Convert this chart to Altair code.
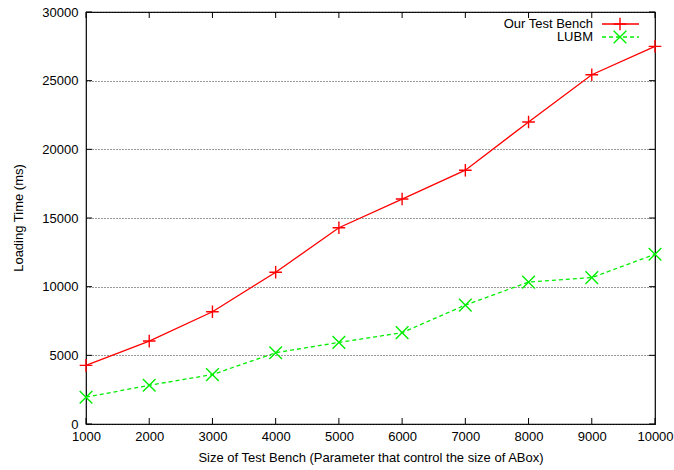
import altair as alt
import pandas as pd

# ---- data ----
sizes = [1000, 2000, 3000, 4000, 5000, 6000, 7000, 8000, 9000, 10000]
our_test_bench = [4270, 6040, 8170, 11050, 14290, 16380, 18480, 21990, 25430, 27500]
lubm = [1950, 2820, 3600, 5190, 5940, 6650, 8660, 10330, 10660, 12360]
series_names = ["Our Test Bench", "LUBM"]
x_ticks = [1000, 2000, 3000, 4000, 5000, 6000, 7000, 8000, 9000, 10000]
y_ticks = [0, 5000, 10000, 15000, 20000, 25000, 30000]

W, H = 569, 412
FONT = "Liberation Sans"
RED = "#ff0000"
GREEN = "#00ee00"
PLUS = "M-1,0L1,0M0,-1L0,1"
CROSS = "M-1,-1L1,1M-1,1L1,-1"

df = pd.DataFrame({
    "size": sizes * 2,
    "time": our_test_bench + lubm,
    "series": [series_names[0]] * len(sizes) + [series_names[1]] * len(sizes),
})
xt = pd.DataFrame({"size": x_ticks})
yt = pd.DataFrame({"time": y_ticks})
leg = pd.DataFrame({"name": series_names})

xscale = alt.Scale(domain=[1000, 10000], nice=False, zero=False)
yscale = alt.Scale(domain=[0, 30000], nice=False)

xaxis = alt.Axis(
    values=x_ticks, format="d", tickSize=0, domain=False, grid=False,
    labelFontSize=13, labelColor="black", labelPadding=6, labelFlush=False,
    labelOverlap=False, title="Size of Test Bench (Parameter that control the size of ABox)",
    titleFontSize=13, titleFontWeight="normal", titleColor="black",
    titleY=33, titleBaseline="middle",
)
yaxis = alt.Axis(
    values=y_ticks, format="d", tickSize=0, domain=False, grid=True,
    gridDash=[1, 2], gridColor="#333333", gridWidth=1,
    labelFontSize=13, labelColor="black", labelPadding=8, labelFlush=False,
    labelOverlap=False, title="Loading Time (ms)",
    titleFontSize=13, titleFontWeight="normal", titleColor="black",
    titleX=-68, titleY=205.5, titleAngle=270, titleBaseline="middle", titleAlign="center",
)

X = alt.X("size:Q", scale=xscale, axis=xaxis)
Y = alt.Y("time:Q", scale=yscale, axis=yaxis)

base = alt.Chart(df).encode(x=X, y=Y)

red_line = base.transform_filter(alt.datum.series == series_names[0]).mark_line(
    color=RED, strokeWidth=1.3)
red_pts = base.transform_filter(alt.datum.series == series_names[0]).mark_point(
    shape=PLUS, size=160, filled=False, stroke=RED, strokeWidth=1.4, opacity=1)
green_line = base.transform_filter(alt.datum.series == series_names[1]).mark_line(
    color=GREEN, strokeWidth=1.3, strokeDash=[4, 3])
green_pts = base.transform_filter(alt.datum.series == series_names[1]).mark_point(
    shape=CROSS, size=160, filled=False, stroke=GREEN, strokeWidth=1.4, opacity=1)

# inward ticks
xb = alt.Chart(xt).mark_rule(color="black").encode(
    x=X, y=alt.value(H), y2=alt.value(H - 6))
xtop = alt.Chart(xt).mark_rule(color="black").encode(
    x=X, y=alt.value(0), y2=alt.value(6))
yl = alt.Chart(yt).mark_rule(color="black").encode(
    y=Y, x=alt.value(0), x2=alt.value(6))
yr = alt.Chart(yt).mark_rule(color="black").encode(
    y=Y, x=alt.value(W - 6), x2=alt.value(W))

# legend (top right, inside)
def legend_entry(i, color, shape, dash, ypos):
    src = alt.Chart(leg).transform_filter(alt.datum.name == series_names[i])
    txt = src.mark_text(align="right", baseline="middle", fontSize=13, color="black").encode(
        text="name:N", x=alt.value(507), y=alt.value(ypos))
    rule_kw = dict(color=color, strokeWidth=1.3)
    if dash:
        rule_kw["strokeDash"] = dash
    ln = src.mark_rule(**rule_kw).encode(x=alt.value(516), x2=alt.value(553), y=alt.value(ypos))
    pt = src.mark_point(shape=shape, size=160, filled=False, stroke=color,
                        strokeWidth=1.4, opacity=1).encode(x=alt.value(534), y=alt.value(ypos))
    return txt + ln + pt

leg1 = legend_entry(0, RED, PLUS, None, 12)
leg2 = legend_entry(1, GREEN, CROSS, [4, 3], 25)

chart = alt.layer(
    red_line, green_line, red_pts, green_pts, xb, xtop, yl, yr, leg1, leg2
).properties(
    width=W, height=H,
    autosize=alt.AutoSizeParams(type="none"),
    padding={"left": 86, "top": 12, "right": 19, "bottom": 46},
).configure(font=FONT).configure_view(stroke="black", strokeWidth=1.2)

chart.save("out.html", embed_options={"renderer": "svg", "actions": False})
